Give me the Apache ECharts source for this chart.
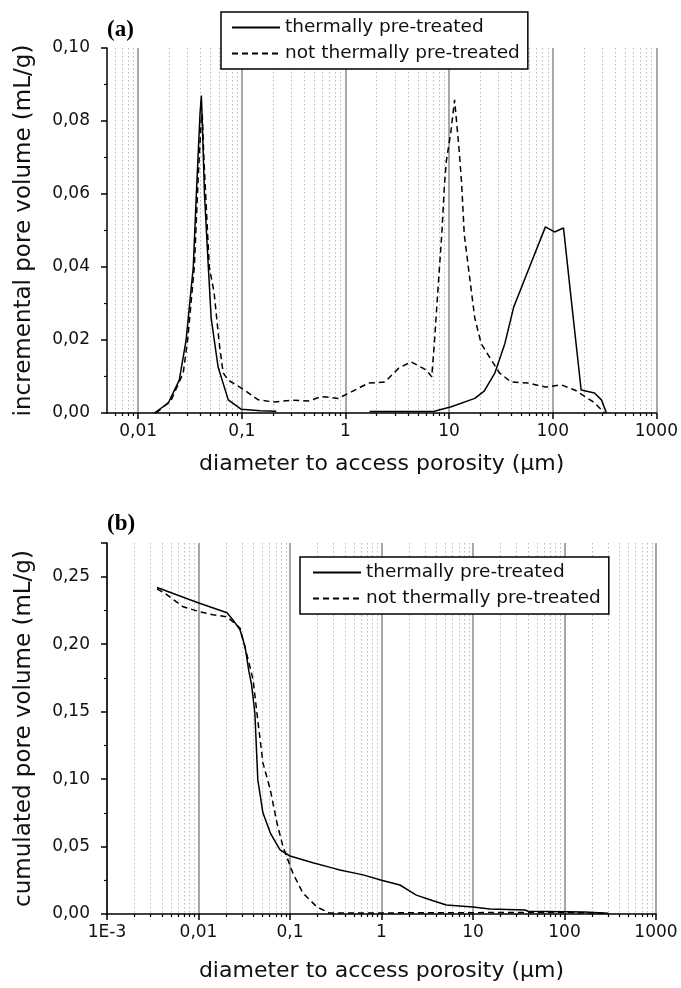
<!DOCTYPE html>
<html>
<head>
<meta charset="utf-8">
<script src="https://cdn.jsdelivr.net/npm/echarts@6/dist/echarts.min.js"></script>
<style>
html,body{margin:0;padding:0;background:#fff;}
#chart{width:681px;height:988px;}
</style>
</head>
<body>
<div id="chart"></div>
<script>
// ---------- data ----------
const seriesNames = ['thermally pre-treated', 'not thermally pre-treated'];

// (a) incremental pore volume (mL/g) vs diameter (µm)
const incThermD = [0.0143,0.0195,0.0249,0.029,0.034,0.0364,0.0395,0.0407,0.0415,0.0436,0.0475,0.0506,0.059,0.074,0.099,0.15,0.215,null,1.71,4,7.2,10.5,17.7,21.8,27.7,34.5,42,56,85,104,127,151,188,253,295,330];
const incThermV = [0,0.0027,0.009,0.02,0.04,0.06,0.082,0.087,0.08,0.06,0.04,0.026,0.0126,0.0036,0.001,0.0006,0.0005,null,0.0004,0.0004,0.0005,0.0017,0.004,0.006,0.011,0.019,0.029,0.038,0.051,0.0496,0.0507,0.031,0.0063,0.0055,0.0036,0];

const incNotD = [0.0149,0.0208,0.0272,0.030,0.0348,0.038,0.0405,0.0415,0.043,0.0485,0.054,0.0606,0.066,0.074,0.106,0.144,0.206,0.30,0.44,0.59,0.85,1.14,1.67,2.4,3.27,4.3,6.0,6.8,7.2,7.9,8.5,9.0,9.4,10.4,11.3,12.5,13.2,14,15.8,17.7,20.4,25.6,30.6,39.6,58,85,121,163,248,317];
const incNotV = [0,0.0035,0.011,0.02,0.04,0.065,0.08,0.082,0.07,0.04,0.033,0.019,0.011,0.009,0.0063,0.0036,0.003,0.0035,0.0033,0.0045,0.004,0.0058,0.0082,0.0085,0.0123,0.014,0.0118,0.0099,0.019,0.036,0.049,0.062,0.069,0.077,0.0858,0.072,0.063,0.049,0.037,0.026,0.019,0.0145,0.011,0.0085,0.0082,0.0071,0.0077,0.0063,0.003,0];

// (b) cumulated pore volume (mL/g) vs diameter (µm)
const cumThermD = [0.00352,0.0099,0.0205,0.0238,0.0284,0.0323,0.0355,0.038,0.0413,0.0445,0.0506,0.061,0.0778,0.1,0.178,0.295,0.35,0.63,1.0,1.59,2.4,3.6,5.1,10,15.3,37,40,165,300];
const cumThermV = [0.242,0.2307,0.2233,0.218,0.2107,0.198,0.18,0.17,0.149,0.0994,0.075,0.06,0.0475,0.043,0.038,0.034,0.0326,0.029,0.025,0.0215,0.014,0.010,0.0067,0.0052,0.0037,0.003,0.002,0.0015,0.0005];

const cumNotD = [0.00352,0.0045,0.0068,0.0104,0.0144,0.0205,0.0284,0.0366,0.0395,0.0435,0.0506,0.061,0.072,0.084,0.108,0.138,0.197,0.27,1,10,100,300];
const cumNotV = [0.241,0.2367,0.2277,0.224,0.2218,0.2203,0.212,0.183,0.1736,0.149,0.112,0.092,0.0675,0.0497,0.030,0.0156,0.0052,0.0007,0.0008,0.001,0.0012,0.0005];

// ---------- ticks ----------
const xTickValsA = [0.01,0.1,1,10,100,1000];
const xTickLabelsA = ['0,01','0,1','1','10','100','1000'];
const xTickValsB = [0.001,0.01,0.1,1,10,100,1000];
const xTickLabelsB = ['1E-3','0,01','0,1','1','10','100','1000'];
const minorMultipliers = [2,3,4,5,6,7,8,9];
const minorDecades = [0.001,0.01,0.1,1,10,100];

function minorTicks(lo, hi) {
  const out = [];
  minorDecades.forEach(d => minorMultipliers.forEach(m => {
    const v = +(d*m).toPrecision(6);
    if (v > lo*1.0001 && v < hi*0.9999) out.push(v);
  }));
  return out;
}
function pairs(xs, ys) { return xs.map((x,i) => (x === null ? [null, null] : [x, ys[i]])); }
function labelFor(vals, labels) {
  return function (v) {
    for (let i = 0; i < vals.length; i++) {
      if (Math.abs(Math.log10(v) - Math.log10(vals[i])) < 1e-6) return labels[i];
    }
    return '';
  };
}
const yFmt = v => (Math.abs(v - 0.275) < 1e-9 ? '' : v.toFixed(2).replace('.', ','));

const FONT = 'DejaVu Sans';
const black = '#000';

function mainX(grid, min, max, vals, labels, nameGap) {
  return {
    gridIndex: grid, type: 'log', logBase: 10, min: min, max: max, position: 'bottom',
    name: 'diameter to access porosity (µm)', nameLocation: 'middle', nameGap: nameGap,
    nameTextStyle: {fontFamily: FONT, fontSize: 22, color: '#111'},
    axisLine: {show: true, onZero: false, lineStyle: {color: black, width: 1.5}},
    axisTick: {show: true, customValues: vals, length: 6, inside: false, lineStyle: {color: black, width: 1.5}},
    minorTick: {show: false},
    axisLabel: {show: true, customValues: vals, formatter: labelFor(vals, labels), margin: 10,
      fontFamily: FONT, fontSize: 17, color: '#111'},
    splitLine: {show: true, lineStyle: {color: '#8a8a8a', width: 1.5}}
  };
}
function minorX(grid, min, max) {
  const mv = minorTicks(min, max);
  return {
    gridIndex: grid, type: 'log', logBase: 10, min: min, max: max, position: 'bottom', offset: 0,
    axisLine: {show: false},
    axisTick: {show: true, customValues: mv, length: 3, inside: false, lineStyle: {color: black, width: 1.2}},
    axisLabel: {show: false},
    splitLine: {show: true, lineStyle: {color: '#b8b8b8', width: 1, type: [1.5, 2.5]}}
  };
}
function yAx(grid, max, interval, name, nameGap) {
  return {
    gridIndex: grid, type: 'value', min: 0, max: max, interval: interval,
    name: name, nameLocation: 'middle', nameGap: nameGap,
    nameTextStyle: {fontFamily: FONT, fontSize: 23, color: '#111'},
    axisLine: {show: true, onZero: false, lineStyle: {color: black, width: 1.5}},
    axisTick: {show: true, length: 6, inside: false, lineStyle: {color: black, width: 1.5}},
    minorTick: {show: true, splitNumber: 2, length: 3, lineStyle: {color: black, width: 1.2}},
    axisLabel: {formatter: yFmt, margin: 17, fontFamily: FONT, fontSize: 17, color: '#111'},
    splitLine: {show: false}
  };
}
function lineSeries(name, xi, yi, data, dashed) {
  return {
    name: name, type: 'line', xAxisIndex: xi, yAxisIndex: yi, data: data,
    symbol: 'none', showSymbol: false, smooth: false, connectNulls: false, clip: true,
    lineStyle: {color: black, width: 1.5, type: dashed ? [6, 4] : 'solid'},
    itemStyle: {color: black}, z: 5
  };
}
function legendAt(left, top, padLeft) {
  return {
    left: left, top: top, orient: 'vertical', data: seriesNames,
    itemWidth: 48, itemHeight: 14, itemGap: 7,
    itemStyle: {opacity: 0},
    padding: [6, 8, 6, padLeft], borderColor: black, borderWidth: 1.5,
    backgroundColor: '#fff', selectedMode: false, z: 10,
    textStyle: {fontFamily: FONT, fontSize: 18.5, color: '#111'}
  };
}

const option = {
  backgroundColor: '#fff',
  animation: false,
  title: [
    {text: '(a)', left: 107, top: 19, padding: 0, textStyle: {fontFamily: 'Liberation Serif', fontWeight: 'bold', fontSize: 23, color: black}},
    {text: '(b)', left: 107, top: 513, padding: 0, textStyle: {fontFamily: 'Liberation Serif', fontWeight: 'bold', fontSize: 23, color: black}}
  ],
  legend: [legendAt(221, 12, 10), legendAt(300, 557, 12)],
  grid: [
    {left: 107, top: 48, width: 550, height: 365, containLabel: false},
    {left: 107, top: 543, width: 549, height: 371, containLabel: false}
  ],
  xAxis: [
    mainX(0, 0.005, 1000, xTickValsA, xTickLabelsA, 40),
    minorX(0, 0.005, 1000),
    mainX(1, 0.001, 1000, xTickValsB, xTickLabelsB, 46),
    minorX(1, 0.001, 1000)
  ],
  yAxis: [
    yAx(0, 0.1, 0.02, 'incremental pore volume (mL/g)', 71),
    yAx(1, 0.275, 0.05, 'cumulated pore volume (mL/g)', 71)
  ],
  series: [
    lineSeries(seriesNames[0], 0, 0, pairs(incThermD, incThermV), false),
    lineSeries(seriesNames[1], 0, 0, pairs(incNotD, incNotV), true),
    lineSeries(seriesNames[0], 2, 1, pairs(cumThermD, cumThermV), false),
    lineSeries(seriesNames[1], 2, 1, pairs(cumNotD, cumNotV), true)
  ]
};

const chart = echarts.init(document.getElementById('chart'), null, {renderer: 'canvas'});
chart.setOption(option);
</script>
</body>
</html>
